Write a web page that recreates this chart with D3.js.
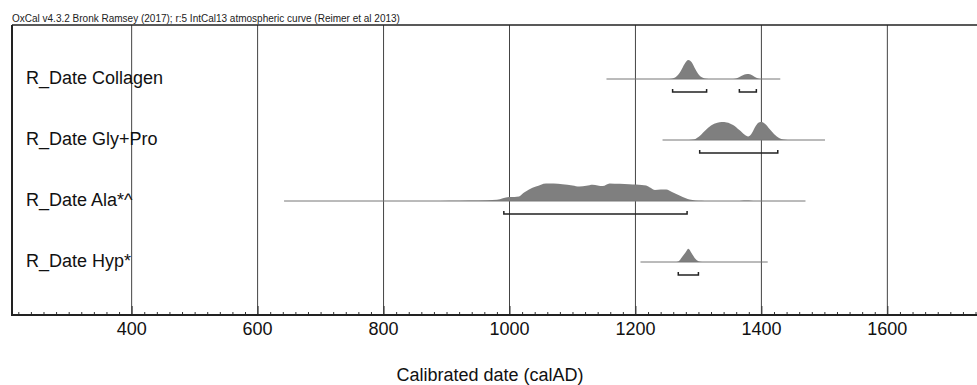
<!DOCTYPE html>
<html>
<head>
<meta charset="utf-8">
<script src="https://cdn.jsdelivr.net/npm/d3@7"></script>
<style>
  body { margin: 0; background: #fff; }
  text { font-family: 'Liberation Sans', Arial, sans-serif; }
</style>
</head>
<body>
<div id="chart"></div>
<script>
const names = ['R_Date Collagen', 'R_Date Gly+Pro', 'R_Date Ala*^', 'R_Date Hyp*']

// extent of the thin baseline drawn for each date (calAD)
const lineStart = [1154, 1243, 642, 1208]
const lineEnd = [1430, 1501, 1470, 1410]

// 95.4% ranges (brackets)
const ranges = [
  [[1259, 1313], [1365, 1392]],
  [[1302, 1426]],
  [[991, 1282]],
  [[1268, 1300]]
]

// posterior distributions: [calAD, relative probability]
const collagenDist = [
  [1250, 0], [1257, 0.01], [1265, 0.12], [1272, 0.4], [1278, 0.75], [1284, 0.95],
  [1289, 0.85], [1295, 0.5], [1301, 0.2], [1307, 0.06], [1313, 0.01], [1320, 0],
  [1355, 0], [1361, 0.04], [1368, 0.15], [1375, 0.24], [1380, 0.25], [1386, 0.18],
  [1392, 0.06], [1398, 0]
]
const glyProDist = [
  [1285, 0], [1292, 0.02], [1300, 0.15], [1310, 0.45], [1320, 0.72], [1330, 0.86],
  [1337, 0.9], [1345, 0.88], [1355, 0.75], [1365, 0.5], [1373, 0.28], [1379, 0.18],
  [1384, 0.3], [1390, 0.65], [1396, 0.88], [1400, 0.9], [1406, 0.8], [1413, 0.55],
  [1420, 0.3], [1428, 0.1], [1435, 0.02], [1442, 0]
]
const alaDist = [
  [890, 0], [920, 0.01], [950, 0.02], [980, 0.06], [999, 0.2], [1008, 0.2],
  [1015, 0.22], [1022, 0.4], [1031, 0.58], [1042, 0.72], [1058, 0.88], [1070, 0.88],
  [1084, 0.84], [1100, 0.78], [1111, 0.72], [1122, 0.76], [1132, 0.81], [1140, 0.78],
  [1148, 0.75], [1159, 0.88], [1175, 0.86], [1190, 0.84], [1201, 0.82], [1210, 0.8],
  [1217, 0.78], [1224, 0.66], [1231, 0.55], [1240, 0.58], [1249, 0.58], [1258, 0.45],
  [1270, 0.28], [1280, 0.14], [1286, 0.08], [1295, 0.03], [1305, 0.01], [1315, 0],
  [1365, 0], [1372, 0.02], [1380, 0.02], [1387, 0]
]
const hypDist = [
  [1262, 0], [1268, 0.03], [1274, 0.25], [1280, 0.5], [1284, 0.66], [1289, 0.45],
  [1294, 0.2], [1300, 0.04], [1306, 0]
]
const distributions = [collagenDist, glyProDist, alaDist, hypDist]

const majorTicks = [400, 600, 800, 1000, 1200, 1400, 1600]

const titleText = 'OxCal v4.3.2 Bronk Ramsey (2017); r:5 IntCal13 atmospheric curve (Reimer et al 2013)'
const axisTitle = 'Calibrated date (calAD)'

const width = 977
const height = 385
const frame = { left: 12, top: 25, bottom: 315 }

const svg = d3
  .select('#chart')
  .append('svg')
  .attr('width', width)
  .attr('height', height)

const xPositionScale = d3
  .scaleLinear()
  .domain([210, 1780])
  .range([frame.left, frame.left + 1570 * 0.62975])

const rowScale = d3
  .scalePoint()
  .domain(names)
  .range([79, 262])

const densityScale = d3
  .scaleLinear()
  .domain([0, 1])
  .range([0, 20])

// title
svg
  .append('text')
  .text(titleText)
  .attr('x', 12)
  .attr('y', 22)
  .attr('font-size', 10)
  .attr('fill', '#222')

// grid lines
svg
  .selectAll('.grid')
  .data(majorTicks)
  .enter()
  .append('line')
  .attr('class', 'grid')
  .attr('x1', d => xPositionScale(d))
  .attr('x2', d => xPositionScale(d))
  .attr('y1', frame.top)
  .attr('y2', frame.bottom)
  .attr('stroke', '#444')
  .attr('stroke-width', 1)

// frame top and left
svg
  .append('line')
  .attr('x1', frame.left)
  .attr('x2', width + 10)
  .attr('y1', frame.top)
  .attr('y2', frame.top)
  .attr('stroke', '#222')
  .attr('stroke-width', 1.5)
svg
  .append('line')
  .attr('x1', frame.left)
  .attr('x2', frame.left)
  .attr('y1', frame.top)
  .attr('y2', frame.bottom)
  .attr('stroke', '#222')
  .attr('stroke-width', 2)

const rows = svg
  .selectAll('.row')
  .data(names)
  .enter()
  .append('g')
  .attr('class', 'row')
  .attr('transform', d => 'translate(0,' + rowScale(d) + ')')

rows
  .append('text')
  .text(d => d)
  .attr('x', 26)
  .attr('y', -1)
  .attr('dominant-baseline', 'central')
  .attr('font-size', 18)
  .attr('fill', '#111')

const area = d3
  .area()
  .x(d => xPositionScale(d[0]))
  .y0(0)
  .y1(d => -densityScale(d[1]))
  .curve(d3.curveMonotoneX)

rows
  .append('path')
  .attr('d', (d, i) => area(distributions[i]))
  .attr('fill', '#7f7f7f')
  .attr('stroke', 'none')

rows
  .append('line')
  .attr('x1', (d, i) => xPositionScale(lineStart[i]))
  .attr('x2', (d, i) => xPositionScale(lineEnd[i]))
  .attr('y1', 0)
  .attr('y2', 0)
  .attr('stroke', '#777')
  .attr('stroke-width', 1)

rows.each(function(d, i) {
  d3.select(this)
    .selectAll('.bracket')
    .data(ranges[i])
    .enter()
    .append('path')
    .attr('class', 'bracket')
    .attr('d', r => {
      const a = xPositionScale(r[0])
      const b = xPositionScale(r[1])
      return 'M' + a + ',10 L' + a + ',13 L' + b + ',13 L' + b + ',10'
    })
    .attr('fill', 'none')
    .attr('stroke', '#222')
    .attr('stroke-width', 1.5)
})

// axis
const minorTicks = d3.range(220, 1780, 20)
const xAxis = d3
  .axisTop(xPositionScale)
  .tickValues(minorTicks)
  .tickSize(3)
  .tickFormat('')
svg
  .append('g')
  .attr('class', 'axis x-axis')
  .attr('transform', 'translate(0,' + frame.bottom + ')')
  .call(xAxis)

svg.selectAll('.x-axis path').remove()
svg
  .selectAll('.x-axis line')
  .attr('stroke', '#333')
  .attr('stroke-width', 1)
  .attr('y2', d => (majorTicks.includes(d) ? -9 : -3))

svg
  .append('line')
  .attr('x1', frame.left - 1)
  .attr('x2', width + 10)
  .attr('y1', frame.bottom)
  .attr('y2', frame.bottom)
  .attr('stroke', '#222')
  .attr('stroke-width', 2)

svg
  .selectAll('.tick-label')
  .data(majorTicks)
  .enter()
  .append('text')
  .attr('class', 'tick-label')
  .text(d => d)
  .attr('x', d => xPositionScale(d))
  .attr('y', 335)
  .attr('text-anchor', 'middle')
  .attr('font-size', 18)
  .attr('fill', '#111')

svg
  .append('text')
  .text(axisTitle)
  .attr('x', 490)
  .attr('y', 381)
  .attr('text-anchor', 'middle')
  .attr('font-size', 18)
  .attr('fill', '#111')
</script>
</body>
</html>
